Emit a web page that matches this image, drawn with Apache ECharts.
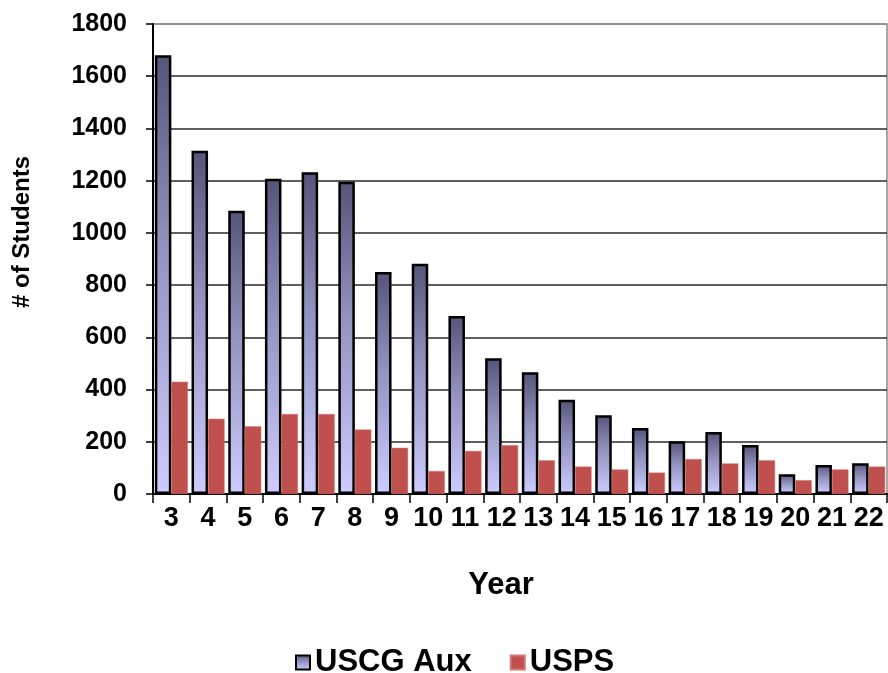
<!DOCTYPE html>
<html>
<head>
<meta charset="utf-8">
<script src="https://cdn.jsdelivr.net/npm/echarts@6/dist/echarts.min.js"></script>
<style>
  html, body { margin: 0; padding: 0; background: #fff; }
  #chart { width: 888px; height: 673px; }
</style>
</head>
<body>
<div id="chart"></div>
<script>
// Course years on the category axis
const years = ['3', '4', '5', '6', '7', '8', '9', '10', '11', '12', '13', '14', '15', '16', '17', '18', '19', '20', '21', '22'];

// Students per year
const uscgAux = [1680, 1315, 1085, 1207, 1232, 1196, 850, 882, 682, 520, 466, 361, 302, 253, 202, 237, 188, 76, 111, 118];
const usps = [430, 288, 259, 306, 306, 247, 177, 88, 165, 187, 129, 105, 94, 82, 134, 117, 129, 53, 94, 105];

// Value axis ticks
const yTicks = [0, 200, 400, 600, 800, 1000, 1200, 1400, 1600, 1800];

const FONT = '"Liberation Sans", Arial, sans-serif';

const auxFill = new echarts.graphic.LinearGradient(0, 0, 0, 1, [
  { offset: 0, color: '#55557a' },
  { offset: 0.45, color: '#9494c2' },
  { offset: 1, color: '#ccccff' }
]);

// Grid lines: dark inside the plot, grey at the top border
const splitColors = yTicks.map((v, i) => (i === yTicks.length - 1 ? '#8a8a8a' : '#2a2a2a'));

const chart = echarts.init(document.getElementById('chart'), null, { renderer: 'canvas' });

chart.setOption({
  animation: false,
  backgroundColor: '#ffffff',
  grid: {
    left: 153, right: 1, top: 24, bottom: 179,
    show: true, borderColor: '#8a8a8a', borderWidth: 1.5
  },
  legend: {
    data: ['USCG Aux', 'USPS'],
    left: 290, top: 642,
    icon: 'rect',
    itemWidth: 14, itemHeight: 14,
    itemGap: 38,
    textStyle: { fontFamily: FONT, fontWeight: 'bold', fontSize: 31, color: '#000' }
  },
  xAxis: {
    type: 'category',
    data: years,
    axisLine: { lineStyle: { color: '#000', width: 2 } },
    axisTick: { show: true, length: 9, lineStyle: { color: '#000', width: 1.5 } },
    axisLabel: { interval: 0, margin: 11, fontFamily: FONT, fontWeight: 'bold', fontSize: 27, color: '#000' }
  },
  yAxis: {
    type: 'value',
    min: 0, max: 1800, interval: 200,
    axisLine: { show: true, lineStyle: { color: '#000', width: 2 } },
    axisTick: { show: true, length: 7, lineStyle: { color: '#000', width: 1.5 } },
    axisLabel: {
      margin: 26, fontFamily: FONT, fontWeight: 'bold', fontSize: 25, color: '#000',
      formatter: (v) => String(v)
    },
    splitLine: { show: true, lineStyle: { color: splitColors, width: 1.5 } }
  },
  graphic: [
    {
      type: 'text',
      x: 22, y: 232,
      rotation: Math.PI / 2,
      style: {
        text: '# of Students',
        fontFamily: FONT, fontWeight: 'bold', fontSize: 24, fill: '#000',
        align: 'center', verticalAlign: 'middle'
      }
    },
    {
      type: 'text',
      x: 501, y: 585,
      style: {
        text: 'Year',
        fontFamily: FONT, fontWeight: 'bold', fontSize: 31, fill: '#000',
        align: 'center', verticalAlign: 'middle'
      }
    }
  ],
  series: [
    {
      name: 'USCG Aux',
      type: 'bar',
      data: uscgAux,
      barGap: '0%',
      barCategoryGap: '10%',
      itemStyle: { color: auxFill, borderColor: '#000', borderWidth: 2.5 }
    },
    {
      name: 'USPS',
      type: 'bar',
      data: usps,
      itemStyle: { color: '#c0504d', borderColor: '#d27471', borderWidth: 0.5 }
    }
  ]
});
</script>
</body>
</html>
